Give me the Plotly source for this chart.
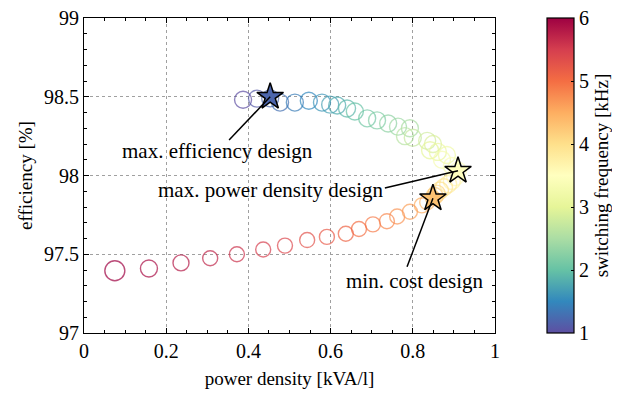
import plotly.graph_objects as go

# ---- data ----
freq_khz = [1.0, 1.1, 1.2, 1.3, 1.4, 1.5, 1.6, 1.7, 1.8, 1.9,
            2.0, 2.1, 2.2, 2.3, 2.4, 2.5, 2.6, 2.7, 2.8, 2.9,
            3.0, 3.1, 3.2, 3.3, 3.4, 3.5, 3.6, 3.7, 3.8, 3.9,
            4.0, 4.1, 4.2, 4.3, 4.4, 4.5, 4.6, 4.7, 4.8, 4.9,
            5.0, 5.1, 5.2, 5.3, 5.4, 5.5, 5.6, 5.7, 5.8, 5.9, 6.0]
power_density = [0.387, 0.421, 0.453, 0.477, 0.513, 0.547, 0.579, 0.599, 0.616, 0.640,
                 0.659, 0.689, 0.713, 0.740, 0.764, 0.793, 0.781, 0.800, 0.835, 0.849,
                 0.842, 0.861, 0.883, 0.871, 0.895, 0.910, 0.903, 0.895, 0.886, 0.876,
                 0.866, 0.858, 0.853, 0.849, 0.835, 0.822, 0.793, 0.762, 0.737, 0.703,
                 0.669, 0.637, 0.591, 0.543, 0.489, 0.436, 0.372, 0.307, 0.236, 0.158, 0.075]
efficiency = [98.481, 98.488, 98.490, 98.463, 98.463, 98.475, 98.463, 98.450, 98.444, 98.425,
              98.406, 98.363, 98.350, 98.330, 98.310, 98.300, 98.250, 98.240, 98.220, 98.200,
              98.160, 98.150, 98.130, 98.100, 98.060, 98.030, 97.990, 97.965, 97.945, 97.925,
              97.905, 97.885, 97.870, 97.855, 97.830, 97.810, 97.770, 97.740, 97.710, 97.690,
              97.660, 97.630, 97.610, 97.590, 97.555, 97.530, 97.500, 97.475, 97.445, 97.410, 97.395]
marker_size = [17] * 33 + [15] * 14 + [15, 16, 17, 20, 24]

design_names = ["max. efficiency design", "max. power density design", "min. cost design"]
design_density = [0.453, 0.910, 0.849]
design_eff = [98.500, 98.030, 97.855]
design_freq = [1.2, 3.5, 4.3]
label_x = [0.326, 0.455, 0.805]
label_y = [98.156, 97.906, 97.330]
leader_x = [0.353, 0.732, 0.786]
leader_y = [98.225, 97.920, 97.420]

x_ticks = [0, 0.2, 0.4, 0.6, 0.8, 1]
y_ticks = [97, 97.5, 98, 98.5, 99]
cbar_ticks = [1, 2, 3, 4, 5, 6]

spectral_r = [[0.0, "#5e4fa2"], [0.1, "#3288bd"], [0.2, "#66c2a5"], [0.3, "#abdda4"],
              [0.4, "#e6f598"], [0.5, "#ffffbf"], [0.6, "#fee08b"], [0.7, "#fdae61"],
              [0.8, "#f46d43"], [0.9, "#d53e4f"], [1.0, "#9e0142"]]

FONT = "Liberation Serif"

fig = go.Figure()
fig.add_trace(go.Scatter(
    x=power_density, y=efficiency, mode="markers",
    marker=dict(symbol="circle-open", size=marker_size, color=freq_khz,
                coloraxis="coloraxis", line=dict(width=1.4)),
    showlegend=False, hoverinfo="skip"))

# leader lines
for lx, ly, dx, dy in zip(leader_x, leader_y, design_density, design_eff):
    fig.add_shape(type="line", x0=lx, y0=ly, x1=dx, y1=dy, xref="x", yref="y",
                  line=dict(color="black", width=1.5))

fig.add_trace(go.Scatter(
    x=design_density, y=design_eff, mode="markers",
    marker=dict(symbol="star", size=20, color=design_freq, coloraxis="coloraxis",
                line=dict(color="black", width=1.5)),
    showlegend=False, hoverinfo="skip"))

for name, tx, ty in zip(design_names, label_x, label_y):
    fig.add_annotation(x=tx, y=ty, text=name, showarrow=False,
                       font=dict(family=FONT, size=21, color="black"),
                       xanchor="center", yanchor="middle")

axis_common = dict(showline=True, linecolor="black", linewidth=1, mirror="ticks",
                   ticks="inside", ticklen=5, tickcolor="black",
                   showgrid=True, gridcolor="#a0a0a0", griddash="dot", gridwidth=1,
                   zeroline=False, ticklabeloverflow="allow",
                   tickfont=dict(family=FONT, size=20, color="black"))

fig.update_xaxes(range=[0, 1], tickvals=x_ticks,
                 title=dict(text="power density [kVA/l]", font=dict(family=FONT, size=19, color="black"), standoff=10),
                 minor=dict(dtick=0.05, ticks="inside", ticklen=3, tickcolor="black", showgrid=False),
                 **axis_common)
fig.update_yaxes(range=[97, 99], tickvals=y_ticks,
                 title=dict(text="efficiency [%]", font=dict(family=FONT, size=19, color="black"), standoff=6),
                 minor=dict(dtick=0.1, ticks="inside", ticklen=3, tickcolor="black", showgrid=False),
                 **axis_common)

fig.update_layout(
    width=612, height=386,
    margin=dict(l=76, r=125, t=10, b=61, autoexpand=False),
    paper_bgcolor="white", plot_bgcolor="white",
    coloraxis=dict(colorscale=spectral_r, cmin=1, cmax=6,
                   colorbar=dict(x=1.1265, xanchor="left", xref="paper", y=0.5, yanchor="middle",
                                 len=1, lenmode="fraction", thickness=27, thicknessmode="pixels",
                                 outlinecolor="black", outlinewidth=1.2, xpad=0, ypad=0,
                                 tickvals=cbar_ticks, ticks="inside", ticklen=3, tickcolor="black",
                                 ticklabeloverflow="allow",
                                 tickfont=dict(family=FONT, size=20, color="black"),
                                 title=dict(text="switching frequency [kHz]", side="right",
                                            font=dict(family=FONT, size=19, color="black")))),
    font=dict(family=FONT, color="black"),
)

fig.write_html("out.html")
